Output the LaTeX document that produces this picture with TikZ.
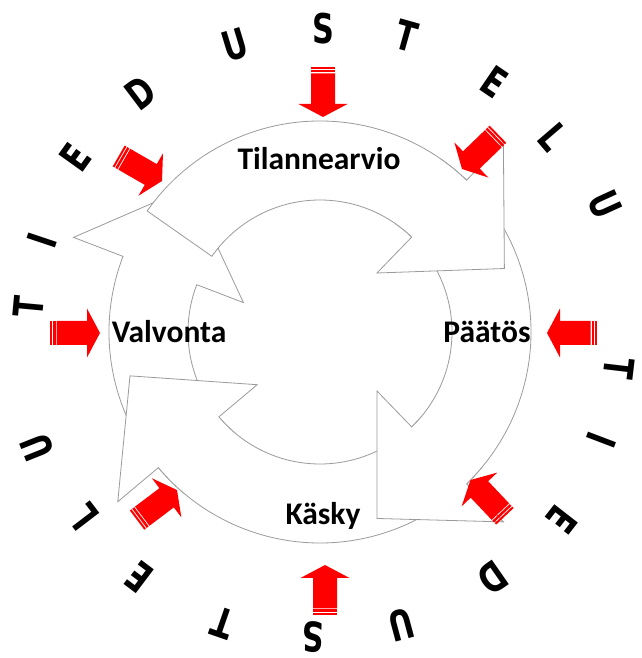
\documentclass[tikz,border=0pt]{standalone}
\usepackage{fontspec}
\setmainfont{Carlito}
\newfontfamily\letterfont{DejaVu Sans}
\usetikzlibrary{calc}
\definecolor{arrowred}{RGB}{255,0,0}
\definecolor{ringgray}{RGB}{155,155,155}
\newcommand\ringarrow[3]{%
  \draw[ringbody] (#1:132pt) -- (#1:211pt)
    arc[start angle=#1, end angle=#2, radius=211pt]
    -- (#2:264pt) -- (#3:195pt) -- (#2:82pt) -- (#2:132pt)
    arc[start angle=#2, end angle=#1, radius=132pt] -- cycle;}
\newcommand\redarr[3]{%
  \begin{scope}[shift={(#1,#2)}, rotate=#3]
    \fill[arrowred] (-50,-12) rectangle (-48,12);
    \fill[arrowred] (-47,-12) rectangle (-44.5,12);
    \fill[arrowred] (-43.5,-12) -- (-13,-12) -- (-13,-24.5) -- (0,0)
      -- (-13,24.5) -- (-13,12) -- (-43.5,12) -- cycle;
  \end{scope}}
\begin{document}
\begin{tikzpicture}[x=1pt,y=1pt,
  ringbody/.style={draw=ringgray, fill=white, line width=0.8pt, line join=miter},
  lbl/.style={font=\bfseries\fontsize{31.5}{36}\selectfont, anchor=base, inner sep=0pt},
  letter/.style={font=\letterfont\bfseries\fontsize{41}{46}\selectfont, inner sep=0pt, xscale=0.74}]
\useasboundingbox (0,0) rectangle (641,658);
\fill[white] (0,0) rectangle (641,658);
% ring of four arrows
\begin{scope}[shift={(320,326)}]
  \ringarrow{230}{159}{132}% Valvonta
  \ringarrow{320}{220}{193}% Kasky
  \ringarrow{55}{-46}{-73}% Paatos
  \ringarrow{145}{46}{19}% Tilannearvio
\end{scope}
% labels
\node[lbl] (tilanne) at (319,488) {Tilannearvio};
\node[lbl] (paatos) at (487,315) {Päätös};
\node[lbl] (valvonta) at (169,315) {Valvonta};
\node[lbl] (kasky) at (323,133) {Käsky};
% red striped arrows
\redarr{323}{541}{-90}
\redarr{462}{489}{224}
\redarr{547}{325}{180}
\redarr{470.5}{178}{133.4}
\redarr{325}{93}{90}
\redarr{177}{168}{37}
\redarr{100}{325}{0}
\redarr{162}{477}{-30}
% letters around
\coordinate (LC) at (323,324);
\foreach \a/\r/\t [count=\i] in {174.7/296/T, 161.5/296/I, 144.4/304/E, 127.1/302/D, 106.9/302/U,
   90/305/S, 74.3/310/T, 55.7/305/E, 40.6/303/L, 24.6/310/U,
   -6.7/298/T, -20.8/298/I, -37.9/303/E, -55.1/297/D, -75/301/U,
   -91.9/303/S, -109.1/306/T, -127.1/305/E, -142.6/301/L, -158.3/308/U}
  \node[rotate=\a-90, letter] (let\i) at ($(LC)+(\a:\r pt)$) {\t};
\end{tikzpicture}
\end{document}
